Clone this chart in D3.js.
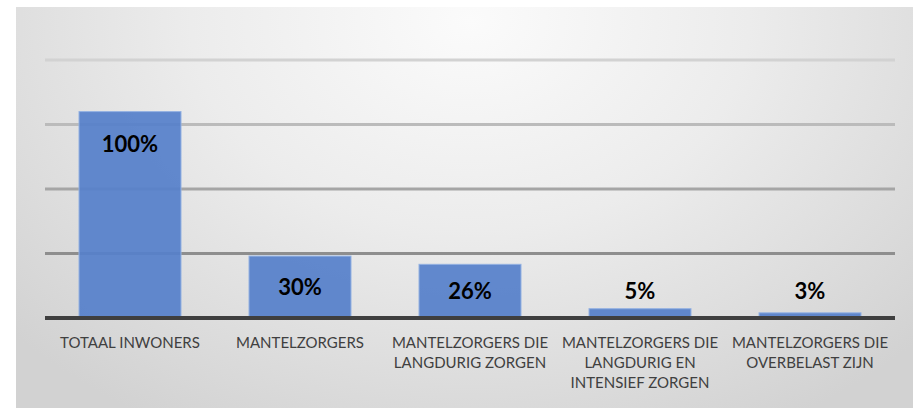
<!DOCTYPE html>
<html>
<head>
<meta charset="utf-8">
<script src="https://cdn.jsdelivr.net/npm/d3@7"></script>
<style>
  html, body { margin: 0; padding: 0; background: #ffffff; }
  svg { display: block; }
</style>
</head>
<body>
<svg id="chart" width="913" height="409"></svg>
<script>
// ---- data ----
const categories = [
  "TOTAAL INWONERS",
  "MANTELZORGERS",
  "MANTELZORGERS DIE\nLANGDURIG ZORGEN",
  "MANTELZORGERS DIE\nLANGDURIG EN\nINTENSIEF ZORGEN",
  "MANTELZORGERS DIE\nOVERBELAST ZIJN"
];
const values = [100, 30, 26, 4.5, 2.5];
const valueLabels = ["100%", "30%", "26%", "5%", "3%"];
const gridTicks = [31.25, 62.5, 93.75, 125];

// ---- layout ----
const svg = d3.select("#chart");
const W = 913, H = 409;
const plot = { left: 45, right: 895, top: 60, bottom: 318 };

const defs = svg.append("defs");
const bg = defs.append("radialGradient")
  .attr("id", "bg")
  .attr("gradientUnits", "userSpaceOnUse")
  .attr("cx", 470).attr("cy", 20).attr("r", 620)
  .attr("gradientTransform", "translate(470,20) scale(1,0.75) translate(-470,-20)");
bg.append("stop").attr("offset", "0").attr("stop-color", "#fbfbfb");
bg.append("stop").attr("offset", "0.45").attr("stop-color", "#ececec");
bg.append("stop").attr("offset", "1").attr("stop-color", "#d2d2d2");

svg.append("rect")
  .attr("x", 16).attr("y", 7)
  .attr("width", W - 16).attr("height", 401)
  .attr("fill", "url(#bg)");

const x = d3.scaleBand()
  .domain(d3.range(categories.length))
  .range([plot.left, plot.right])
  .paddingInner(0.4)
  .paddingOuter(0.2);

const y = d3.scaleLinear()
  .domain([0, 125])
  .range([plot.bottom, plot.top]);

// gridlines
const gridColor = d3.scaleLinear()
  .domain([31.25, 125])
  .range(["#8e8e8e", "#d2d2d2"]);

svg.append("g")
  .selectAll("line")
  .data(gridTicks)
  .join("line")
  .attr("x1", plot.left).attr("x2", plot.right)
  .attr("y1", d => y(d)).attr("y2", d => y(d))
  .attr("stroke", d => gridColor(d))
  .attr("stroke-width", 3);

// bars
svg.append("g")
  .selectAll("rect")
  .data(values)
  .join("rect")
  .attr("x", (d, i) => x(i))
  .attr("y", d => y(d))
  .attr("width", x.bandwidth())
  .attr("height", d => y(0) - y(d))
  .attr("fill", "#5680ca")
  .attr("fill-opacity", 0.93)
  .attr("stroke", "#93b1e2")
  .attr("stroke-width", 1);

// baseline axis
const axis = d3.axisBottom(x).tickSize(0).tickFormat("");
const axisG = svg.append("g")
  .attr("transform", `translate(0,${plot.bottom})`)
  .call(axis);
axisG.select(".domain")
  .attr("stroke", "#3f3f3f")
  .attr("stroke-width", 4)
  .attr("d", `M${plot.left},0H${plot.right}`);

// category labels
const catG = svg.append("g");
categories.forEach((c, i) => {
  const t = catG.append("text")
    .attr("x", x(i) + x.bandwidth() / 2)
    .attr("y", 348)
    .attr("text-anchor", "middle")
    .attr("font-family", "Lato, 'Open Sans', sans-serif")
    .attr("font-size", 15)
    .attr("fill", "#404040");
  c.split("\n").forEach((line, j) => {
    t.append("tspan")
      .attr("x", x(i) + x.bandwidth() / 2)
      .attr("dy", j === 0 ? 0 : 20)
      .text(line);
  });
});

// value labels
svg.append("g")
  .selectAll("text")
  .data(values)
  .join("text")
  .attr("x", (d, i) => x(i) + x.bandwidth() / 2)
  .attr("y", d => {
    if (d > 60) return y(d) + 40;           // inside end
    const h = y(0) - y(d);
    if (h > 40) return (y(d) + y(0)) / 2 + 8; // centred in bar
    return y(13) + 8;                        // above short bars
  })
  .attr("text-anchor", "middle")
  .attr("font-family", "Lato, 'Open Sans', sans-serif")
  .attr("font-weight", "bold")
  .attr("font-size", 22)
  .attr("fill", "#000000")
  .text((d, i) => valueLabels[i]);
</script>
</body>
</html>
